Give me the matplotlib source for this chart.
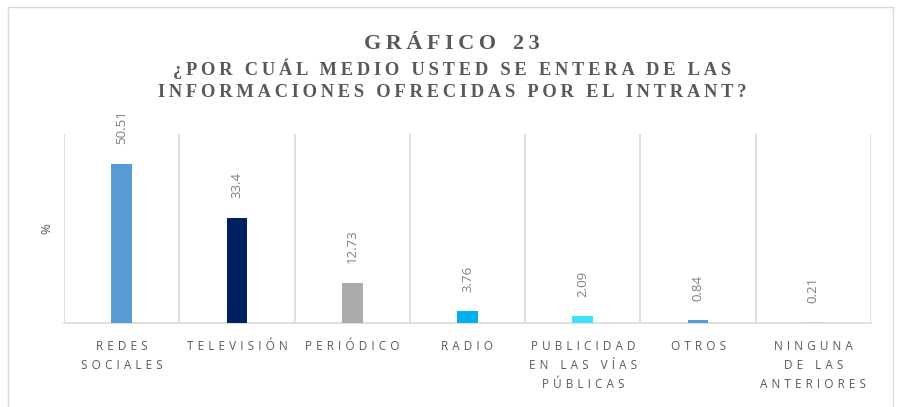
import matplotlib
matplotlib.use("Agg")
import matplotlib.pyplot as plt
from matplotlib.patches import Rectangle

categories = ["REDES\nSOCIALES", "TELEVISIÓN", "PERIÓDICO", "RADIO",
              "PUBLICIDAD\nEN LAS VÍAS\nPÚBLICAS", "OTROS", "NINGUNA\nDE LAS\nANTERIORES"]
values = [50.51, 33.4, 12.73, 3.76, 2.09, 0.84, 0.21]
value_labels = ["50.51", "33.4", "12.73", "3.76", "2.09", "0.84", "0.21"]
colors = ["#5B9BD5", "#002060", "#ABABAB", "#00B0F0", "#40E0F8", "#5B9BD5", "#BDD7EE"]

def spaced(s, gap=" ", wordgap="   "):
    lines = []
    for line in s.split("\n"):
        words = line.split(" ")
        lines.append(wordgap.join(gap.join(w) for w in words))
    return "\n".join(lines)

fig = plt.figure(figsize=(9.04, 4.07), dpi=100)
fig.patches.append(Rectangle((8/904, -0.01), 885/904, 1 - 7/407 + 0.01, transform=fig.transFigure,
                             fill=False, edgecolor="#D9D9D9", linewidth=1))
ax = fig.add_axes([64/904, 1 - 323/407, (871-64)/904, (323-134)/407])

x = list(range(len(values)))
ax.bar(x, values, width=0.18, color=colors, zorder=3)
ax.set_xlim(-0.5, len(values) - 0.5)
ax.set_ylim(0, 60)

for xi, v, lab in zip(x, values, value_labels):
    ax.annotate(lab, (xi, v), xytext=(0, 14), textcoords="offset points",
                rotation=90, ha="center", va="bottom", fontsize=9.5,
                color="#7F7F7F", family="Open Sans")

for b in [i + 0.5 for i in range(-1, len(values))]:
    ax.axvline(b, color="#D9D9D9", linewidth=1.2, zorder=1)

for s in ["top", "right", "left"]:
    ax.spines[s].set_visible(False)
ax.spines["bottom"].set_color("#D9D9D9")
ax.spines["bottom"].set_linewidth(1.2)
ax.set_yticks([])
ax.set_xticks(x)
ax.set_xticklabels([spaced(c, " \u200a", "    ") for c in categories], fontsize=8.5, color="#595959",
                   family="Open Sans", linespacing=1.6, va="top")
ax.tick_params(axis="x", length=0, pad=12)

ax.set_ylabel("%", fontsize=9.5, color="#595959", family="Open Sans", labelpad=8)

fig.text(0.5, 1 - 44/407, spaced("GRÁFICO 23", "\u2009"), ha="center", va="center",
         fontsize=16, fontweight="bold", color="#595959", family="Liberation Serif")
sub = "¿POR CUÁL MEDIO USTED SE ENTERA DE LAS\nINFORMACIONES OFRECIDAS POR EL INTRANT?"
fig.text(0.5, 1 - 80/407, spaced(sub, "\u2009", " \u2009\u2009"), ha="center", va="center",
         fontsize=13.3, fontweight="bold", color="#595959", family="Liberation Serif",
         linespacing=1.4)

fig.savefig("out.png", dpi=100)
